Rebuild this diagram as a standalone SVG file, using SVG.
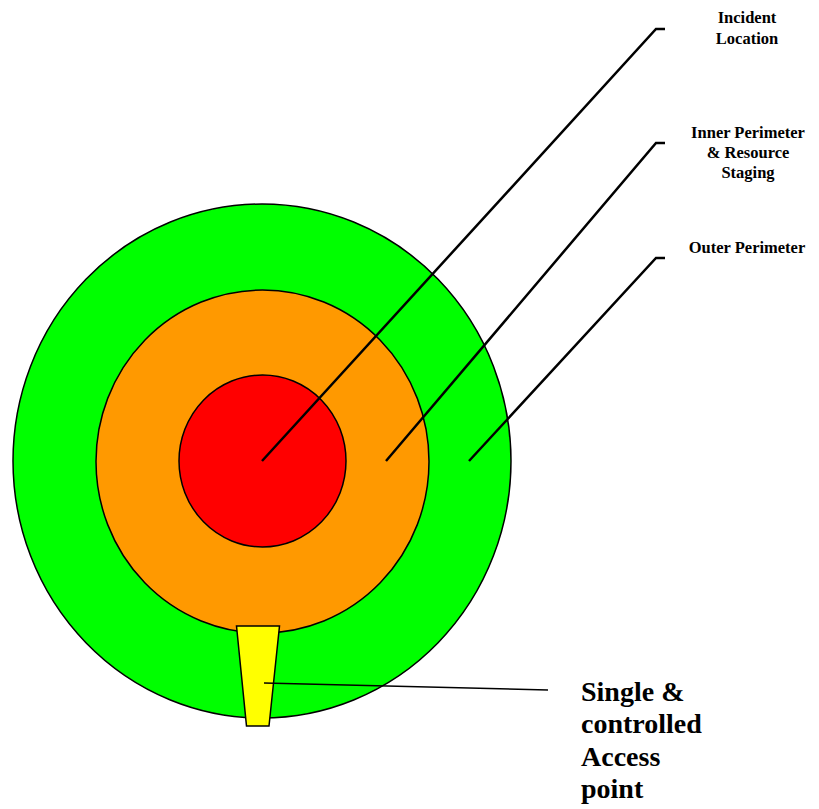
<svg xmlns="http://www.w3.org/2000/svg" width="819" height="809" viewBox="0 0 819 809">
<style>
.zone{stroke:#000;stroke-width:1.5}
.lbl{font-family:"Liberation Serif","Times New Roman",serif;font-weight:bold;font-size:16.5px;text-anchor:middle;fill:#000}
.big{font-family:"Liberation Serif","Times New Roman",serif;font-weight:bold;font-size:28px;fill:#000}
.lead{fill:none;stroke:#000;stroke-width:2.5}
</style>
<rect width="819" height="809" fill="#fff"/>
<g id="outer-perimeter"><ellipse class="zone" cx="262" cy="461" rx="249" ry="257" fill="#00ff00"/></g>
<g id="inner-perimeter"><ellipse class="zone" cx="262.5" cy="461.5" rx="166.5" ry="171.5" fill="#ff9900"/></g>
<g id="incident-location"><ellipse class="zone" cx="262.5" cy="461" rx="83.5" ry="86" fill="#ff0000"/></g>
<g id="access-point"><polygon class="zone" points="236.5,626 279.5,626 269,726 246.5,726" fill="#ffff00" stroke-width="2"/></g>
<g id="connectors">
<polyline class="lead" points="262,461 656,29 665,29"/>
<polyline class="lead" points="386,461 656,143 665,143"/>
<polyline class="lead" points="469,461 656,258 665,258"/>
<line x1="264" y1="683" x2="548" y2="690" stroke="#000" stroke-width="1.5"/>
</g>
<g id="labels">
<text class="lbl" x="747" y="23">Incident</text>
<text class="lbl" x="747" y="44">Location</text>
<text class="lbl" x="748" y="137.5">Inner Perimeter</text>
<text class="lbl" x="748" y="158">&amp; Resource</text>
<text class="lbl" x="748" y="178">Staging</text>
<text class="lbl" x="747" y="252.5">Outer Perimeter</text>
<text class="big" x="581" y="701">Single &amp;</text>
<text class="big" x="581" y="733">controlled</text>
<text class="big" x="581" y="766">Access</text>
<text class="big" x="581" y="798">point</text>
</g>
</svg>
